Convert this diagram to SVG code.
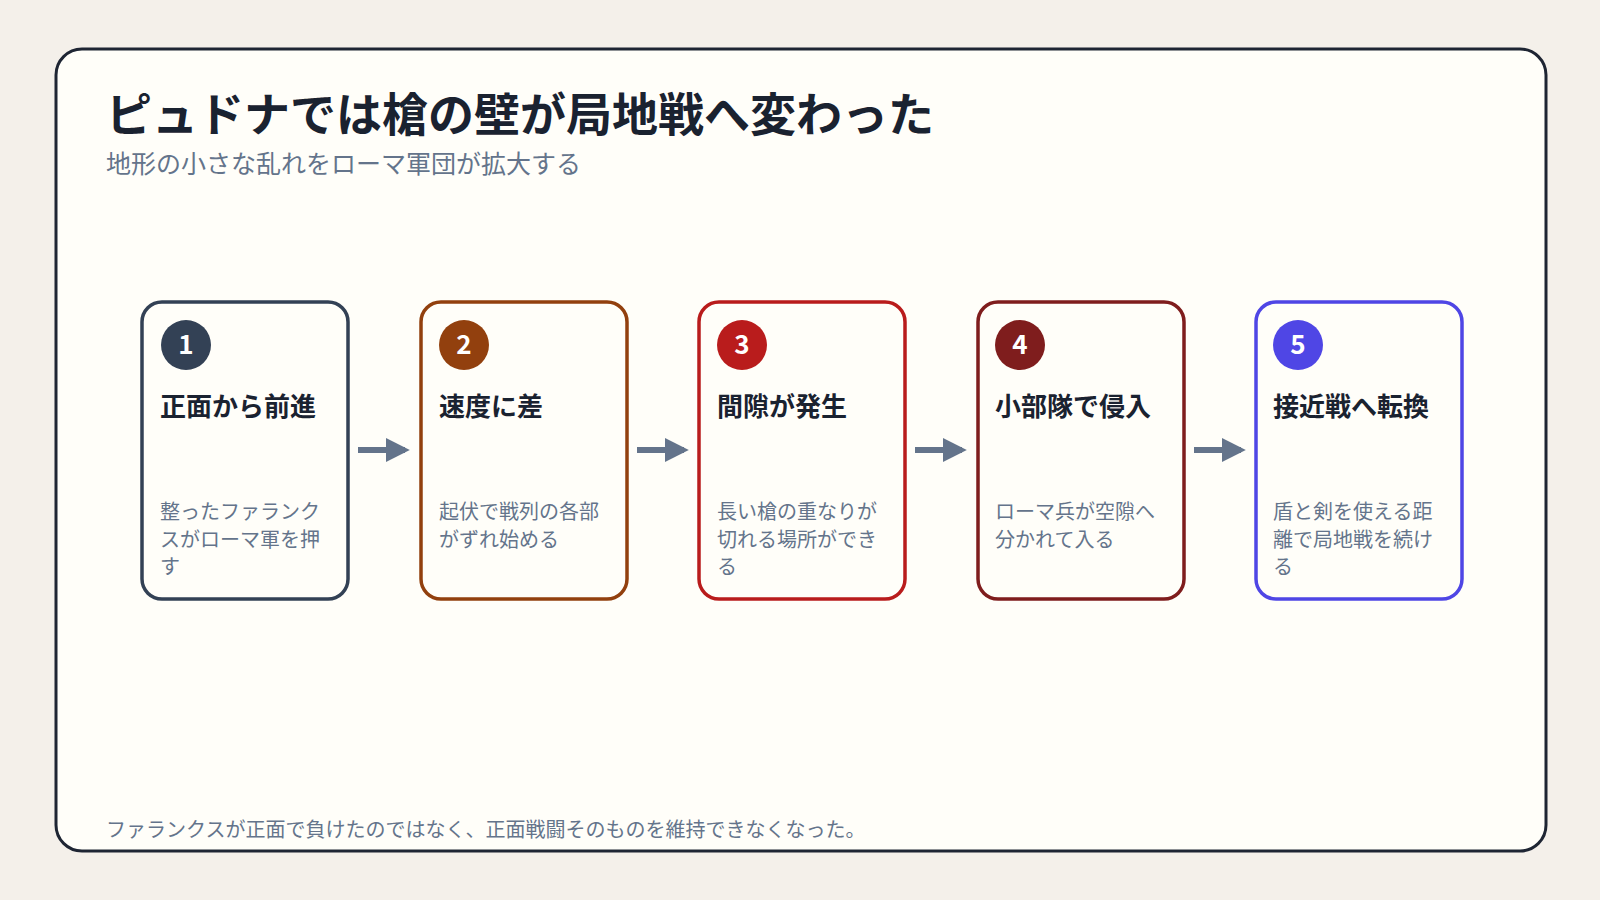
<svg xmlns="http://www.w3.org/2000/svg" width="1600" height="900" viewBox="0 0 1600 900">
<style>
text{font-family:"Noto Sans CJK JP","Noto Sans",sans-serif}
.h{font-size:26px;font-weight:700;fill:#1a2230}
.d{font-size:20px;fill:#64748b}
.n{font-size:26px;font-weight:700;fill:#fff;text-anchor:middle}
.c{fill:#fffef9;stroke-width:3.5}
.a{stroke:#64748b;stroke-width:6;fill:none;marker-end:url(#m)}
</style>
<defs><marker id="m" viewBox="0 0 10 10" refX="8" refY="5" markerWidth="4" markerHeight="4" orient="auto"><path d="M0,0L10,5L0,10z" fill="#64748b"/></marker></defs>
<rect width="1600" height="900" fill="#f4f0ea"/>
<rect x="56" y="49" width="1490" height="802" rx="26" fill="#fffef9" stroke="#1e2533" stroke-width="3"/>
<text x="106" y="131" font-size="46" font-weight="700" fill="#1a2230">ピュドナでは槍の壁が局地戦へ変わった</text>
<text x="106" y="173" font-size="25" fill="#64748b">地形の小さな乱れをローマ軍団が拡大する</text>
<g id="connectors">
<path class="a" d="M358 450H405"/><path class="a" d="M637 450H684"/><path class="a" d="M915 450H962"/><path class="a" d="M1194 450H1241"/>
</g>
<g id="n1"><rect class="c" x="142" y="302" width="206" height="297" rx="20" stroke="#334155"/><circle cx="186" cy="345" r="25" fill="#334155"/><text class="n" x="186" y="354">1</text><text class="h" x="160" y="416">正面から前進</text><text class="d" x="160" y="519">整ったファランク</text><text class="d" x="160" y="547">スがローマ軍を押</text><text class="d" x="160" y="574">す</text></g>
<g id="n2"><rect class="c" x="421" y="302" width="206" height="297" rx="20" stroke="#92400e"/><circle cx="464" cy="345" r="25" fill="#92400e"/><text class="n" x="464" y="354">2</text><text class="h" x="439" y="416">速度に差</text><text class="d" x="439" y="519">起伏で戦列の各部</text><text class="d" x="439" y="547">がずれ始める</text></g>
<g id="n3"><rect class="c" x="699" y="302" width="206" height="297" rx="20" stroke="#b91c1c"/><circle cx="742" cy="345" r="25" fill="#b91c1c"/><text class="n" x="742" y="354">3</text><text class="h" x="717" y="416">間隙が発生</text><text class="d" x="717" y="519">長い槍の重なりが</text><text class="d" x="717" y="547">切れる場所ができ</text><text class="d" x="717" y="574">る</text></g>
<g id="n4"><rect class="c" x="978" y="302" width="206" height="297" rx="20" stroke="#7f1d1d"/><circle cx="1020" cy="345" r="25" fill="#7f1d1d"/><text class="n" x="1020" y="354">4</text><text class="h" x="995" y="416">小部隊で侵入</text><text class="d" x="995" y="519">ローマ兵が空隙へ</text><text class="d" x="995" y="547">分かれて入る</text></g>
<g id="n5"><rect class="c" x="1256" y="302" width="206" height="297" rx="20" stroke="#4f46e5"/><circle cx="1298" cy="345" r="25" fill="#4f46e5"/><text class="n" x="1298" y="354">5</text><text class="h" x="1273" y="416">接近戦へ転換</text><text class="d" x="1273" y="519">盾と剣を使える距</text><text class="d" x="1273" y="547">離で局地戦を続け</text><text class="d" x="1273" y="574">る</text></g>
<text x="106" y="837" font-size="20" fill="#64748b">ファランクスが正面で負けたのではなく、正面戦闘そのものを維持できなくなった。</text>
</svg>
